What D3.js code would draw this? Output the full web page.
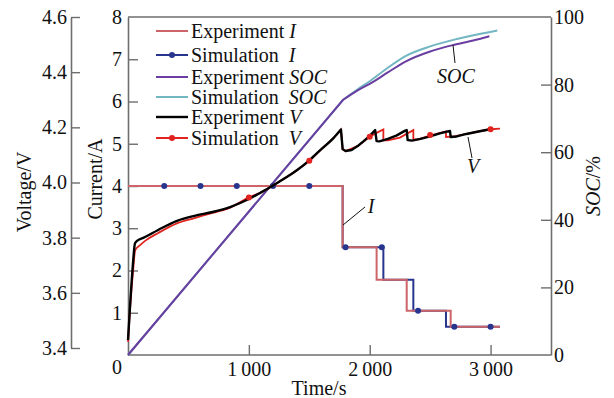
<!DOCTYPE html>
<html><head><meta charset="utf-8">
<script src="https://cdn.jsdelivr.net/npm/d3@7"></script>
<style>
body{margin:0;background:#fff;}
svg text{font-family:"Liberation Serif","Times New Roman",serif;font-size:20px;fill:#111;}
</style></head>
<body><svg id="c" width="614" height="398"></svg>
<script>
// ---------- data ----------
const xTicks = [1000, 2000, 3000];
const currentTicks = [1, 2, 3, 4, 5, 6, 7, 8];
const voltageTicks = [3.4, 3.6, 3.8, 4.0, 4.2, 4.4, 4.6];
const socTicks = [20, 40, 60, 80, 100];

// current steps (value held until next time)
const expITime = [0, 1776, 2057, 2306, 2670, 3078];
const expI     = [4, 2.55, 1.78, 1.05, 0.67, 0.67];
const simITime = [0, 1776, 2113, 2361, 2631, 3078];
const simI     = [4, 2.55, 1.78, 1.05, 0.67, 0.67];
const simIMarkT = [300, 600, 900, 1200, 1500, 1800, 2100, 2400, 2700, 3000];
const simIMark  = [4, 4, 4, 4, 4, 2.55, 2.55, 1.05, 0.67, 0.67];

// SOC (%)
const expSOCTime = [0, 1780, 1900, 2000, 2150, 2300, 2500, 2700, 2900, 2990];
const expSOC     = [0, 75.5, 78.3, 80.2, 83.6, 86.9, 89.8, 91.8, 93.4, 94.3];
const simSOCTime = [0, 1780, 1900, 2000, 2150, 2300, 2500, 2700, 2900, 3056];
const simSOC     = [0, 75.5, 78.6, 81.0, 85.0, 88.5, 91.3, 93.3, 94.9, 96.0];

// Voltage (V)
const expVTime = [0, 20, 40, 58, 80, 127, 250, 400, 550, 700, 850, 1000, 1100, 1200, 1300, 1400, 1500, 1600, 1700, 1762,
  1776, 1800, 1850, 1900, 1950, 2000, 2045, 2057, 2080, 2150, 2220, 2290, 2306, 2314, 2350, 2420, 2500, 2580, 2664, 2670, 2720, 2800, 2900, 2995];
const expV = [3.429, 3.574, 3.70, 3.78, 3.79, 3.799, 3.828, 3.860, 3.879, 3.893, 3.912, 3.940, 3.964, 3.989, 4.016, 4.045, 4.080, 4.121, 4.161, 4.192,
  4.121, 4.114, 4.118, 4.132, 4.150, 4.169, 4.190, 4.150, 4.149, 4.158, 4.170, 4.187, 4.190, 4.154, 4.152, 4.158, 4.167, 4.178, 4.187, 4.165, 4.167, 4.176, 4.185, 4.193];
const simVTime = [0, 20, 40, 60, 100, 150, 250, 400, 550, 700, 850, 1000, 1100, 1200, 1300, 1400, 1500, 1600, 1700, 1762,
  1776, 1800, 1900, 2000, 2057, 2113, 2113, 2150, 2250, 2361, 2361, 2400, 2513, 2631, 2631, 2700, 2800, 2900, 3000, 3078];
const simV = [3.422, 3.560, 3.669, 3.755, 3.773, 3.791, 3.817, 3.851, 3.871, 3.890, 3.910, 3.946, 3.964, 3.989, 4.016, 4.045, 4.079, 4.121, 4.161, 4.192,
  4.121, 4.114, 4.132, 4.166, 4.180, 4.192, 4.153, 4.153, 4.163, 4.190, 4.156, 4.156, 4.172, 4.185, 4.165, 4.167, 4.176, 4.185, 4.193, 4.195];
const simVMarkT = [1000, 1500, 2000, 2500, 3000];
const simVMark  = [3.946, 4.079, 4.166, 4.172, 4.193];

const legendLabels = [
  ["Experiment ", "I"], ["Simulation  ", "I"], ["Experiment ", "SOC"],
  ["Simulation  ", "SOC"], ["Experiment ", "V"], ["Simulation  ", "V"]
];

// ---------- drawing ----------
const colExpI = "#cc6468", colSimI = "#28358f", colExpSOC = "#6a3ea1",
      colSimSOC = "#72b6c2", colExpV = "#000", colSimV = "#e0231e", axisCol = "#6e6e6e";

const svg = d3.select("#c");
const x = d3.scaleLinear().domain([0, 3500]).range([128, 551]);
const yI = d3.scaleLinear().domain([0, 8]).range([355, 17]);
const yS = d3.scaleLinear().domain([0, 100]).range([355, 17]);
const yV = d3.scaleLinear().domain([3.4, 4.6]).range([348, 17]);

function styleAxis(g){
  g.selectAll(".domain").attr("stroke", axisCol).attr("stroke-width", 1.6);
  g.selectAll(".tick line").attr("stroke", axisCol).attr("stroke-width", 1.4);
  g.selectAll(".tick text").attr("fill", "#111").style("font-size", "20px")
    .style("font-family", '"Liberation Serif","Times New Roman",serif');
}

// top border
svg.append("line").attr("x1", x(0)).attr("x2", x(3500)).attr("y1", yI(8)).attr("y2", yI(8))
  .attr("stroke", axisCol).attr("stroke-width", 1.6);

// bottom axis
const gx = svg.append("g").attr("transform", `translate(0,${yI(0)})`)
  .call(d3.axisBottom(x).tickValues(xTicks).tickSizeInner(-10).tickSizeOuter(0).tickPadding(7)
    .tickFormat(d => d3.format(",")(d).replace(",", "\u2009")));
styleAxis(gx);
gx.selectAll(".domain").attr("d", `M${x(0)},0H${x(3500)}`);

// left current axis
const gI = svg.append("g").attr("transform", `translate(${x(0)},0)`)
  .call(d3.axisLeft(yI).tickValues(currentTicks).tickSizeInner(-10).tickSizeOuter(0).tickPadding(6).tickFormat(d3.format("d")));
styleAxis(gI);
gI.selectAll(".tick line").filter(d => d === 8).remove();

// right SOC axis
const gS = svg.append("g").attr("transform", `translate(${x(3500)},0)`)
  .call(d3.axisRight(yS).tickValues(socTicks).tickSizeInner(-10).tickSizeOuter(0).tickPadding(3).tickFormat(d3.format("d")));
styleAxis(gS);
gS.selectAll(".tick line").filter(d => d === 100).remove();
svg.append("text").attr("x", x(3500) + 3).attr("y", yS(0)).attr("dy", "0.35em").text("0");

// voltage axis
const gV = svg.append("g").attr("transform", "translate(71,0)")
  .call(d3.axisLeft(yV).tickValues(voltageTicks).tickSizeInner(-9).tickSizeOuter(0).tickPadding(4).tickFormat(d3.format(".1f")));
styleAxis(gV);

// shared zero
svg.append("text").attr("x", 117).attr("y", 367).attr("dy", "0.35em").attr("text-anchor", "middle").text("0");

// axis titles
svg.append("text").attr("transform", "translate(31,192) rotate(-90)").attr("text-anchor", "middle").text("Voltage/V");
svg.append("text").attr("transform", "translate(102,179) rotate(-90)").attr("text-anchor", "middle").text("Current/A");
const st = svg.append("text").attr("transform", "translate(600,186) rotate(-90)").attr("text-anchor", "middle");
st.append("tspan").attr("font-style", "italic").text("SOC");
st.append("tspan").text("/%");
svg.append("text").attr("x", 319).attr("y", 395).attr("text-anchor", "middle").text("Time/s");

// series
const zip = (a, b) => a.map((t, i) => [t, b[i]]);
const lineI = d3.line().x(d => x(d[0])).y(d => yI(d[1])).curve(d3.curveStepAfter);
const lineSLin = d3.line().x(d => x(d[0])).y(d => yS(d[1]));
const lineSCurve = d3.line().x(d => x(d[0])).y(d => yS(d[1])).curve(d3.curveMonotoneX);
const lineVLin = d3.line().x(d => x(d[0])).y(d => yV(d[1]));
const lineVCurve = d3.line().x(d => x(d[0])).y(d => yV(d[1])).curve(d3.curveMonotoneX);

function socPath(pts){
  // straight constant-current segment, smooth curve after the knee
  return lineSLin(pts.slice(0, 2)) + "L" + lineSCurve(pts.slice(1)).slice(1);
}
function vPath(pts){
  // smooth constant-current part up to the first peak, then linear saw-tooth
  const k = pts.findIndex(d => d[0] >= 1762);
  return lineVCurve(pts.slice(0, k + 1)) + "L" + lineVLin(pts.slice(k)).slice(1);
}
svg.append("path").attr("d", socPath(zip(simSOCTime, simSOC))).attr("fill", "none").attr("stroke", colSimSOC).attr("stroke-width", 2);
svg.append("path").attr("d", socPath(zip(expSOCTime, expSOC))).attr("fill", "none").attr("stroke", colExpSOC).attr("stroke-width", 2);

svg.append("path").attr("d", lineI(zip(simITime, simI))).attr("fill", "none").attr("stroke", colSimI).attr("stroke-width", 2);
svg.append("path").attr("d", lineI(zip(expITime, expI))).attr("fill", "none").attr("stroke", colExpI).attr("stroke-width", 2);
svg.selectAll(".mi").data(zip(simIMarkT, simIMark)).enter().append("circle")
  .attr("cx", d => x(d[0])).attr("cy", d => yI(d[1])).attr("r", 3).attr("fill", colSimI);

svg.append("path").attr("d", vPath(zip(simVTime, simV))).attr("fill", "none").attr("stroke", colSimV).attr("stroke-width", 1.8);
svg.append("path").attr("d", vPath(zip(expVTime, expV))).attr("fill", "none").attr("stroke", colExpV).attr("stroke-width", 2.4)
  .attr("stroke-linejoin", "round");
svg.selectAll(".mv").data(zip(simVMarkT, simVMark)).enter().append("circle")
  .attr("cx", d => x(d[0])).attr("cy", d => yV(d[1])).attr("r", 3).attr("fill", colSimV);

// annotations
function leader(x1, y1, x2, y2){ svg.append("line").attr("x1", x1).attr("y1", y1).attr("x2", x2).attr("y2", y2).attr("stroke", "#111").attr("stroke-width", 1); }
leader(453, 45, 455, 63);
svg.append("text").attr("x", 456).attr("y", 83).attr("text-anchor", "middle").attr("font-style", "italic").text("SOC");
leader(468, 137, 472, 158);
svg.append("text").attr("x", 473).attr("y", 173).attr("text-anchor", "middle").attr("font-style", "italic").text("V");
leader(343, 225, 365, 207);
svg.append("text").attr("x", 371).attr("y", 213).attr("text-anchor", "middle").attr("font-style", "italic").text("I");

// legend
const legCols = [colExpI, colSimI, colExpSOC, colSimSOC, colExpV, colSimV];
const legMark = [false, true, false, false, false, true];
const legY = [31, 55, 77, 97, 117, 138];
legendLabels.forEach((lab, i) => {
  const yy = legY[i];
  svg.append("line").attr("x1", 156).attr("x2", 188).attr("y1", yy).attr("y2", yy)
    .attr("stroke", legCols[i]).attr("stroke-width", i === 4 ? 2.4 : 2);
  if (legMark[i]) svg.append("circle").attr("cx", 172).attr("cy", yy).attr("r", 3).attr("fill", legCols[i]);
  const t = svg.append("text").attr("x", 191).attr("y", yy).attr("dy", "0.35em").attr("xml:space", "preserve").style("white-space", "pre");
  t.append("tspan").text(lab[0]);
  t.append("tspan").attr("font-style", "italic").text(lab[1]);
});
</script></body></html>
